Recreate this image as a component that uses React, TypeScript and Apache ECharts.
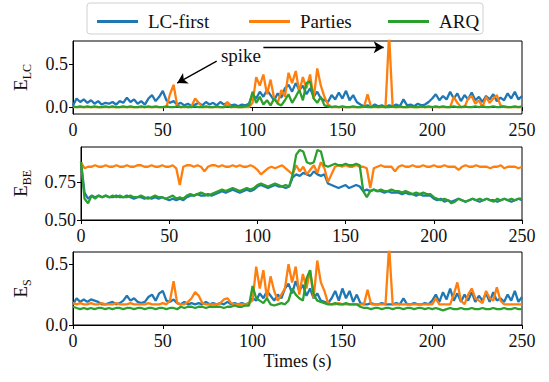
import React, { useEffect, useRef } from "react";
import * as echarts from "echarts";

const STEP = 2; // seconds between samples
const METHODS = ["LC-first", "Parties", "ARQ"];
const COLORS = ["#1f77b4", "#ff7f0e", "#2ca02c"];

// Panel 1: E_LC
const lcBlue = [
  0.02,0.10,0.06,0.09,0.05,0.08,0.04,0.07,0.03,0.05,
  0.04,0.06,0.03,0.07,0.05,0.11,0.06,0.09,0.04,0.07,
  0.03,0.10,0.14,0.07,0.12,0.19,0.08,0.05,0.07,0.03,
  0.05,0.02,0.04,0.01,0.03,0.05,0.02,0.06,0.03,0.05,
  0.02,0.06,0.03,0.05,0.02,0.03,0.01,0.03,0.02,0.04,
  0.15,0.10,0.18,0.12,0.20,0.14,0.08,0.16,0.11,0.22,
  0.26,0.18,0.28,0.20,0.25,0.15,0.22,0.12,0.18,0.10,
  0.08,0.06,0.14,0.09,0.17,0.10,0.19,0.08,0.14,0.06,
  0.03,0.01,0.02,0.00,0.03,0.01,0.02,0.00,0.02,0.01,
  0.03,0.01,0.09,0.02,0.03,0.01,0.04,0.02,0.03,0.06,
  0.10,0.15,0.08,0.13,0.09,0.18,0.10,0.16,0.07,0.14,
  0.09,0.17,0.08,0.12,0.06,0.13,0.09,0.15,0.07,0.11,
  0.08,0.16,0.10,0.18,0.09,0.13,
];
const lcOrange = [
  0,0,0,0,0,0,0,0,0,0,
  0,0,0,0,0,0,0,0,0,0,
  0,0,0,0,0,0,0,0.15,0.26,0.02,
  0,0,0,0.01,0.10,0.05,0,0,0,0,
  0,0,0,0.06,0,0,0,0,0,0,
  0.05,0.35,0.25,0.38,0.15,0.32,0.10,0.05,0.20,0.12,
  0.40,0.28,0.42,0.18,0.35,0.22,0.38,0.10,0.45,0.25,
  0.12,0.03,0,0,0,0,0,0,0,0,
  0,0,0.15,0,0,0,0,0,0.85,0,
  0,0,0,0,0,0,0,0,0,0,
  0,0,0,0,0,0,0.12,0.05,0,0,
  0.10,0.13,0.04,0.08,0,0.12,0.05,0.10,0.14,0.02,
  0,0,0,0,0,0,
];
const lcGreen = [
  0.01,0.00,0.01,0.00,0.01,0.00,0.01,0.00,0.00,0.01,
  0.00,0.01,0.00,0.00,0.01,0.00,0.01,0.00,0.00,0.01,
  0.00,0.01,0.00,0.01,0.00,0.00,0.01,0.00,0.00,0.01,
  0.00,0.01,0.00,0.00,0.01,0.00,0.00,0.01,0.00,0.00,
  0.01,0.00,0.00,0.01,0.00,0.01,0.00,0.00,0.01,0.02,
  0.18,0.05,0.12,0.03,0.08,0.02,0.10,0.04,0.02,0.08,
  0.15,0.05,0.12,0.20,0.08,0.28,0.30,0.10,0.05,0.12,
  0.02,0.01,0.00,0.01,0.00,0.01,0.00,0.00,0.01,0.00,
  0.00,0.01,0.00,0.00,0.01,0.00,0.01,0.00,0.00,0.01,
  0.00,0.01,0.00,0.00,0.01,0.00,0.00,0.01,0.00,0.01,
  0.00,0.01,0.00,0.01,0.00,0.00,0.01,0.00,0.00,0.01,
  0.00,0.00,0.01,0.00,0.01,0.00,0.00,0.01,0.00,0.00,
  0.01,0.00,0.00,0.01,0.00,0.01,
];

// Panel 2: E_BE
const beBlue = [
  0.88,0.68,0.64,0.66,0.65,0.66,0.65,0.66,0.65,0.65,
  0.66,0.65,0.65,0.66,0.65,0.64,0.65,0.65,0.64,0.65,
  0.64,0.65,0.64,0.65,0.64,0.63,0.64,0.63,0.64,0.63,
  0.65,0.66,0.66,0.67,0.66,0.66,0.67,0.66,0.67,0.68,
  0.69,0.68,0.69,0.70,0.69,0.68,0.69,0.70,0.69,0.70,
  0.72,0.73,0.72,0.71,0.72,0.73,0.72,0.72,0.71,0.72,
  0.78,0.80,0.79,0.81,0.80,0.79,0.82,0.80,0.79,0.80,
  0.74,0.73,0.72,0.71,0.72,0.73,0.71,0.72,0.73,0.72,
  0.69,0.70,0.69,0.70,0.69,0.69,0.68,0.69,0.68,0.68,
  0.68,0.67,0.68,0.67,0.67,0.66,0.67,0.66,0.66,0.66,
  0.64,0.63,0.64,0.62,0.63,0.62,0.63,0.64,0.63,0.62,
  0.63,0.64,0.63,0.62,0.63,0.64,0.63,0.63,0.62,0.63,
  0.64,0.63,0.62,0.63,0.64,0.63,
];
const beOrange = [
  0.88,0.84,0.85,0.85,0.86,0.85,0.85,0.86,0.85,0.85,
  0.86,0.85,0.85,0.86,0.85,0.85,0.86,0.86,0.85,0.85,
  0.86,0.85,0.85,0.86,0.85,0.85,0.86,0.84,0.73,0.85,
  0.86,0.86,0.85,0.86,0.85,0.82,0.85,0.86,0.86,0.85,
  0.86,0.85,0.85,0.86,0.85,0.86,0.85,0.85,0.86,0.85,
  0.83,0.80,0.82,0.84,0.85,0.84,0.85,0.86,0.84,0.82,
  0.80,0.86,0.82,0.85,0.80,0.83,0.86,0.81,0.88,0.84,
  0.75,0.80,0.85,0.86,0.85,0.86,0.85,0.85,0.86,0.85,
  0.85,0.84,0.71,0.84,0.85,0.86,0.85,0.85,0.85,0.82,
  0.85,0.86,0.85,0.85,0.86,0.85,0.85,0.86,0.85,0.85,
  0.86,0.85,0.85,0.86,0.85,0.85,0.85,0.83,0.85,0.86,
  0.85,0.85,0.86,0.85,0.85,0.85,0.84,0.85,0.85,0.86,
  0.84,0.85,0.85,0.85,0.84,0.85,
];
const beGreen = [
  0.88,0.64,0.61,0.66,0.64,0.66,0.65,0.66,0.65,0.66,
  0.65,0.66,0.65,0.65,0.66,0.65,0.65,0.66,0.65,0.64,
  0.65,0.66,0.65,0.65,0.64,0.65,0.66,0.64,0.65,0.64,
  0.66,0.67,0.66,0.67,0.68,0.67,0.66,0.67,0.68,0.69,
  0.70,0.69,0.70,0.71,0.70,0.69,0.70,0.71,0.70,0.71,
  0.73,0.74,0.73,0.72,0.73,0.74,0.73,0.72,0.73,0.72,
  0.80,0.93,0.96,0.95,0.88,0.87,0.88,0.96,0.95,0.86,
  0.85,0.86,0.87,0.86,0.86,0.87,0.86,0.86,0.87,0.86,
  0.69,0.65,0.69,0.70,0.69,0.70,0.69,0.69,0.70,0.69,
  0.69,0.68,0.69,0.68,0.67,0.68,0.67,0.68,0.67,0.67,
  0.65,0.64,0.63,0.64,0.63,0.61,0.62,0.64,0.63,0.62,
  0.63,0.64,0.63,0.64,0.63,0.64,0.63,0.62,0.64,0.63,
  0.64,0.63,0.64,0.63,0.64,0.64,
];

// Panel 3: E_S
const sBlue = [
  0.17,0.22,0.19,0.21,0.19,0.21,0.20,0.19,0.17,0.17,
  0.18,0.19,0.17,0.18,0.20,0.24,0.20,0.22,0.19,0.18,
  0.19,0.23,0.25,0.20,0.26,0.28,0.20,0.19,0.21,0.18,
  0.17,0.19,0.17,0.18,0.17,0.18,0.17,0.19,0.17,0.18,
  0.17,0.18,0.17,0.19,0.17,0.18,0.17,0.18,0.17,0.18,
  0.22,0.20,0.26,0.22,0.28,0.24,0.20,0.25,0.22,0.30,
  0.34,0.26,0.36,0.28,0.33,0.24,0.30,0.22,0.26,0.20,
  0.19,0.18,0.22,0.28,0.20,0.30,0.22,0.28,0.19,0.25,
  0.18,0.17,0.17,0.18,0.17,0.17,0.18,0.17,0.17,0.17,
  0.18,0.17,0.22,0.17,0.17,0.18,0.17,0.17,0.18,0.17,
  0.20,0.25,0.19,0.27,0.21,0.30,0.20,0.26,0.19,0.25,
  0.20,0.27,0.19,0.24,0.20,0.26,0.19,0.27,0.20,0.22,
  0.19,0.25,0.20,0.28,0.19,0.23,
];
const sOrange = [
  0.18,0.17,0.18,0.17,0.17,0.18,0.17,0.17,0.18,0.17,
  0.17,0.17,0.18,0.17,0.17,0.17,0.18,0.17,0.17,0.17,
  0.17,0.18,0.17,0.17,0.17,0.18,0.17,0.20,0.36,0.18,
  0.17,0.17,0.19,0.22,0.27,0.24,0.18,0.17,0.17,0.17,
  0.17,0.18,0.21,0.22,0.18,0.17,0.17,0.17,0.17,0.18,
  0.20,0.48,0.30,0.45,0.22,0.40,0.28,0.20,0.25,0.30,
  0.50,0.35,0.48,0.25,0.42,0.30,0.45,0.22,0.53,0.35,
  0.28,0.18,0.17,0.17,0.18,0.17,0.17,0.17,0.17,0.17,
  0.17,0.17,0.29,0.17,0.17,0.17,0.17,0.17,0.65,0.17,
  0.17,0.17,0.17,0.17,0.17,0.17,0.17,0.17,0.17,0.17,
  0.17,0.22,0.17,0.17,0.17,0.17,0.25,0.35,0.20,0.17,
  0.25,0.30,0.22,0.20,0.18,0.28,0.22,0.20,0.31,0.20,
  0.17,0.17,0.17,0.17,0.17,0.17,
];
const sGreen = [
  0.15,0.14,0.13,0.14,0.13,0.14,0.13,0.14,0.14,0.13,
  0.14,0.13,0.14,0.14,0.13,0.14,0.14,0.13,0.14,0.14,
  0.13,0.14,0.14,0.13,0.14,0.14,0.13,0.14,0.14,0.13,
  0.15,0.14,0.15,0.15,0.14,0.15,0.15,0.14,0.15,0.15,
  0.15,0.15,0.14,0.15,0.15,0.16,0.15,0.15,0.16,0.16,
  0.32,0.22,0.20,0.18,0.22,0.17,0.16,0.17,0.18,0.17,
  0.20,0.30,0.25,0.22,0.20,0.38,0.45,0.25,0.20,0.19,
  0.18,0.17,0.17,0.18,0.17,0.17,0.18,0.17,0.17,0.17,
  0.15,0.14,0.14,0.13,0.14,0.14,0.13,0.14,0.14,0.13,
  0.14,0.14,0.13,0.14,0.14,0.13,0.14,0.14,0.13,0.14,
  0.13,0.14,0.13,0.12,0.13,0.14,0.13,0.13,0.14,0.13,
  0.13,0.14,0.13,0.13,0.14,0.13,0.13,0.14,0.13,0.13,
  0.14,0.13,0.13,0.14,0.13,0.13,
];

const PANELS = [
  { sub: "LC", series: [lcBlue, lcOrange, lcGreen], min: -0.08, max: 0.77, ticks: [0, 0.5], digits: 1 },
  { sub: "BE", series: [beBlue, beOrange, beGreen], min: 0.5, max: 0.98, ticks: [0.5, 0.75], digits: 2 },
  { sub: "S", series: [sBlue, sOrange, sGreen], min: 0, max: 0.6, ticks: [0, 0.5], digits: 1 },
];

// annotation (data coordinates of panel 1)
const SPIKE_LABEL = { x: 93.5, y: 0.605 };
const ARROWS = [
  [[80, 0.535], [58, 0.28]],
  [[106, 0.698], [173, 0.698]],
];

const FONT = "Liberation Serif";
const INK = "#111";

export default function App() {
  const ref = useRef<HTMLDivElement>(null);
  useEffect(() => {
    if (!ref.current) return;
    const chart = echarts.init(ref.current, undefined, { renderer: "svg" });
    const grids = [
      { left: 73, right: 27, top: 41, height: 73 },
      { left: 81, right: 27, top: 147, height: 73 },
      { left: 73, right: 27, top: 252, height: 73 },
    ].map((g) => ({ ...g, show: true, borderColor: "#000", borderWidth: 1, backgroundColor: "transparent" }));

    const xAxes = PANELS.map((_, p) => ({
      type: "value",
      gridIndex: p,
      min: 0,
      max: 250,
      interval: 50,
      axisLine: { show: true, lineStyle: { color: "#000", width: 1 } },
      axisTick: { show: true, length: 4, lineStyle: { color: "#000" } },
      axisLabel: { show: true, fontSize: 18, fontFamily: FONT, color: INK, margin: 7, showMinLabel: true, showMaxLabel: true },
      splitLine: { show: false },
      name: p === 2 ? "Times (s)" : "",
      nameLocation: "middle",
      nameGap: 27,
      nameTextStyle: { fontSize: 18, fontFamily: FONT, color: INK },
    }));

    const yAxes = PANELS.map((pn, p) => ({
      type: "value",
      gridIndex: p,
      min: pn.min,
      max: pn.max,
      axisLine: { show: true, lineStyle: { color: "#000", width: 1 } },
      axisTick: { show: true, length: 4, lineStyle: { color: "#000" }, customValues: pn.ticks },
      axisLabel: {
        show: true,
        fontSize: 18,
        fontFamily: FONT,
        color: INK,
        margin: 5,
        customValues: pn.ticks,
        formatter: (v: number) => v.toFixed(pn.digits),
      },
      splitLine: { show: false },
      name: `{e|E}{s|${pn.sub}}`,
      nameLocation: "middle",
      nameRotate: 90,
      nameGap: p === 1 ? 48 : 40,
      nameTextStyle: {
        fontFamily: FONT,
        color: INK,
        rich: {
          e: { fontSize: 19, fontFamily: FONT, color: INK, lineHeight: 26, verticalAlign: "middle" },
          s: { fontSize: 12, fontFamily: FONT, color: INK, lineHeight: 12, verticalAlign: "bottom" },
        },
      },
    }));

    const series: any[] = [];
    PANELS.forEach((pn, p) => {
      pn.series.forEach((vals, m) => {
        const s: any = {
          type: "line",
          name: METHODS[m],
          xAxisIndex: p,
          yAxisIndex: p,
          data: vals.map((v, i) => [i * STEP, v]),
          showSymbol: false,
          symbol: "none",
          lineStyle: { width: 2.3, color: COLORS[m] },
          itemStyle: { color: COLORS[m] },
          clip: true,
        };
        if (p === 0 && m === 0) {
          s.markLine = {
            silent: true,
            symbol: ["none", "arrow"],
            symbolSize: [9, 10],
            label: { show: false },
            lineStyle: { color: "#000", width: 1.3, type: "solid" },
            data: ARROWS.map(([a, b]) => [{ coord: a }, { coord: b }]),
          };
          s.markPoint = {
            silent: true,
            symbol: "circle",
            symbolSize: 0,
            data: [
              {
                coord: [SPIKE_LABEL.x, SPIKE_LABEL.y],
                label: { show: true, position: "inside", formatter: "spike", fontSize: 19, fontFamily: FONT, color: INK },
              },
            ],
          };
        }
        series.push(s);
      });
    });

    const legendLefts = [92, 244, 383];
    const legends = METHODS.map((name, m) => ({
      data: [name],
      left: legendLefts[m],
      top: 7,
      icon: "rect",
      itemWidth: 41,
      itemHeight: 3,
      selectedMode: false,
      textStyle: { fontSize: 19, fontFamily: FONT, color: INK, padding: [0, 0, 0, 5] },
    }));

    chart.setOption({
      animation: false,
      backgroundColor: "#fff",
      grid: grids,
      xAxis: xAxes,
      yAxis: yAxes,
      legend: legends,
      series,
      graphic: [
        {
          type: "rect",
          shape: { x: 87, y: 3, width: 396, height: 31, r: 3 },
          style: { fill: "#fff", stroke: "#d0d0d0", lineWidth: 1 },
          z: -1,
          silent: true,
        },
      ],
    });
    return () => chart.dispose();
  }, []);
  return <div ref={ref} style={{ position: "fixed", left: 0, top: 0, width: 549, height: 382 }} />;
}
